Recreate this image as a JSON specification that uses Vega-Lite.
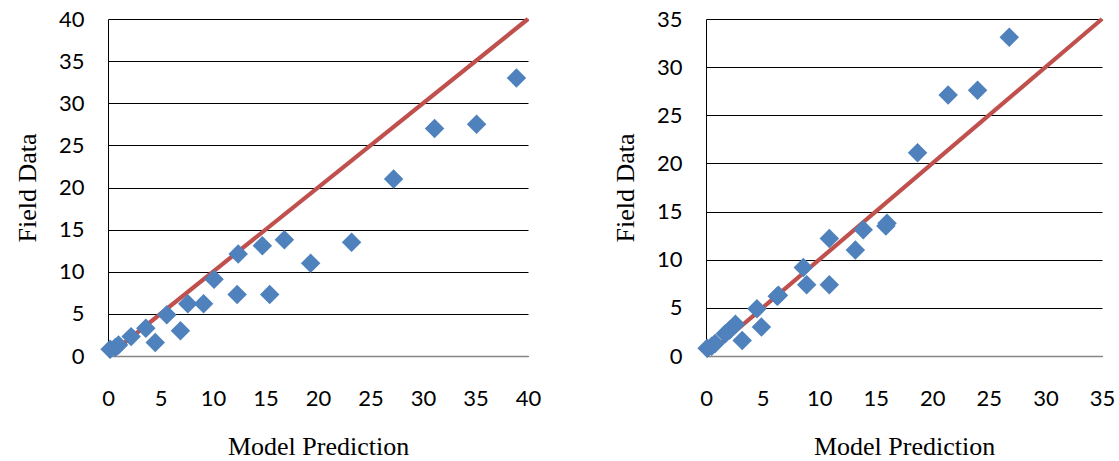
{
  "$schema": "https://vega.github.io/schema/vega-lite/v6.json",
  "background": "white",
  "padding": {"left": 14, "top": 8, "right": 5, "bottom": 5},
  "spacing": 178,
  "bounds": "flush",
  "datasets": {
    "left": [
      {"pred": 0.2, "field": 0.8},
      {"pred": 0.7, "field": 1.0},
      {"pred": 1.0, "field": 1.3},
      {"pred": 2.2, "field": 2.3},
      {"pred": 3.6, "field": 3.3},
      {"pred": 4.5, "field": 1.6},
      {"pred": 5.6, "field": 4.9},
      {"pred": 6.9, "field": 3.0},
      {"pred": 7.6, "field": 6.2},
      {"pred": 9.1, "field": 6.2},
      {"pred": 10.1, "field": 9.1},
      {"pred": 12.3, "field": 7.3},
      {"pred": 15.4, "field": 7.3},
      {"pred": 12.4, "field": 12.1},
      {"pred": 14.7, "field": 13.1},
      {"pred": 16.8, "field": 13.8},
      {"pred": 19.3, "field": 11.0},
      {"pred": 23.2, "field": 13.5},
      {"pred": 27.2, "field": 21.0},
      {"pred": 31.1, "field": 27.0},
      {"pred": 35.1, "field": 27.5},
      {"pred": 38.9, "field": 33.0}
    ],
    "right": [
      {"pred": 0.1, "field": 0.8},
      {"pred": 0.5, "field": 1.0},
      {"pred": 0.8, "field": 1.3},
      {"pred": 1.7, "field": 2.3},
      {"pred": 2.1, "field": 2.7},
      {"pred": 2.6, "field": 3.3},
      {"pred": 3.2, "field": 1.6},
      {"pred": 4.5, "field": 4.9},
      {"pred": 4.9, "field": 3.0},
      {"pred": 6.3, "field": 6.2},
      {"pred": 6.4, "field": 6.3},
      {"pred": 8.6, "field": 9.2},
      {"pred": 8.9, "field": 7.4},
      {"pred": 10.9, "field": 7.4},
      {"pred": 10.9, "field": 12.2},
      {"pred": 13.9, "field": 13.1},
      {"pred": 16.0, "field": 13.8},
      {"pred": 13.2, "field": 11.0},
      {"pred": 15.9, "field": 13.5},
      {"pred": 18.7, "field": 21.1},
      {"pred": 21.4, "field": 27.1},
      {"pred": 24.0, "field": 27.6},
      {"pred": 26.8, "field": 33.1}
    ],
    "lineLeft": [{"pred": 0, "field": 0}, {"pred": 40, "field": 40}],
    "lineRight": [{"pred": 0, "field": 0}, {"pred": 35, "field": 35}]
  },
  "hconcat": [
    {
      "width": 420,
      "height": 337,
      "layer": [
        {
          "data": {"name": "lineLeft"},
          "mark": {"type": "line", "color": "#C0504D", "strokeWidth": 4.2},
          "encoding": {
            "x": {"field": "pred", "type": "quantitative", "scale": {"domain": [0, 40], "nice": false}, "axis": {"values": [0,5,10,15,20,25,30,35,40], "title": "Model Prediction"}},
            "y": {"field": "field", "type": "quantitative", "scale": {"domain": [0, 40], "nice": false}, "axis": {"values": [0,5,10,15,20,25,30,35,40], "title": "Field Data"}}
          }
        },
        {
          "data": {"name": "left"},
          "mark": {"type": "point", "shape": "diamond", "filled": true, "color": "#4F81BD", "opacity": 1, "size": 380},
          "encoding": {
            "x": {"field": "pred", "type": "quantitative"},
            "y": {"field": "field", "type": "quantitative"}
          }
        }
      ]
    },
    {
      "width": 396,
      "height": 337,
      "layer": [
        {
          "data": {"name": "lineRight"},
          "mark": {"type": "line", "color": "#C0504D", "strokeWidth": 4.2},
          "encoding": {
            "x": {"field": "pred", "type": "quantitative", "scale": {"domain": [0, 35], "nice": false}, "axis": {"values": [0,5,10,15,20,25,30,35], "title": "Model Prediction"}},
            "y": {"field": "field", "type": "quantitative", "scale": {"domain": [0, 35], "nice": false}, "axis": {"values": [0,5,10,15,20,25,30,35], "title": "Field Data"}}
          }
        },
        {
          "data": {"name": "right"},
          "mark": {"type": "point", "shape": "diamond", "filled": true, "color": "#4F81BD", "opacity": 1, "size": 380},
          "encoding": {
            "x": {"field": "pred", "type": "quantitative"},
            "y": {"field": "field", "type": "quantitative"}
          }
        }
      ]
    }
  ],
  "config": {
    "view": {"stroke": null},
    "axis": {
      "labelFont": "Lato",
      "labelFontSize": 22,
      "labelColor": "#000000",
      "titleFont": "Liberation Serif",
      "titleFontSize": 26,
      "titleFontWeight": "normal",
      "titleColor": "#000000",
      "ticks": false
    },
    "axisY": {
      "grid": true,
      "gridColor": "#000000",
      "gridWidth": 1,
      "gridOpacity": 1,
      "domainColor": "#000000",
      "domainWidth": 1,
      "labelPadding": 24,
      "titlePadding": 18
    },
    "axisX": {
      "grid": false,
      "domainColor": "#868686",
      "domainWidth": 1.5,
      "labelPadding": 32,
      "titlePadding": 24,
      "labelFlush": false
    }
  }
}
